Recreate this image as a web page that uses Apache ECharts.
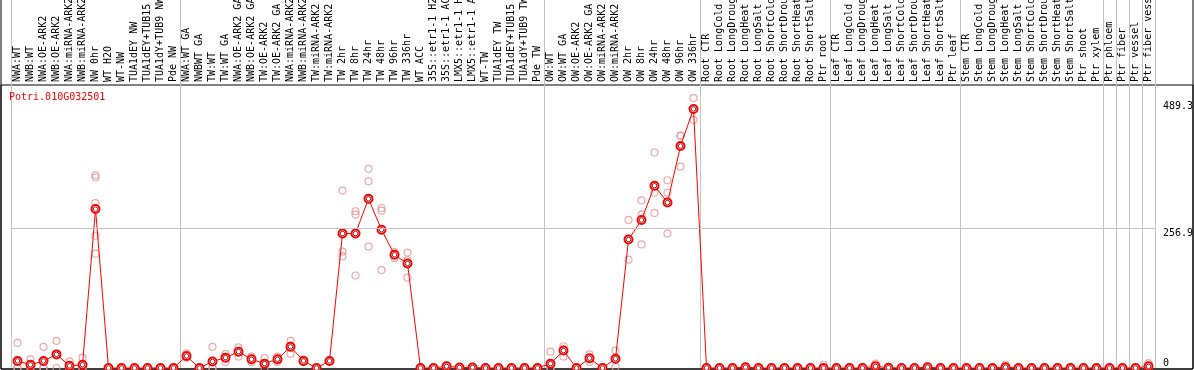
<!DOCTYPE html>
<html><head><meta charset="utf-8">
<script src="https://cdn.jsdelivr.net/npm/echarts@6/dist/echarts.min.js"></script>
<style>html,body{margin:0;padding:0;background:#fff;overflow:hidden}#c{width:1194px;height:370px}</style>
</head><body><div id="c"></div><script>
const geneName = 'Potri.010G032501';

const categories = [
  'NWA:WT','NWB:WT','NWA:OE-ARK2','NWB:OE-ARK2','NWA:miRNA-ARK2','NWB:miRNA-ARK2','NW 0hr','WT H2O','WT-NW','TUA1dEY NW','TUA1dEY+TUB15 NW','TUA1dY+TUB9 NW','Pde NW',
  'NWA:WT GA','NWBWT GA','TW:WT','TW:WT GA','NWA:OE-ARK2 GA','NWB:OE-ARK2 GA','TW:OE-ARK2','TW:OE-ARK2 GA','NWA:miRNA-ARK2','NWB:miRNA-ARK2','TW:miRNA-ARK2','TW:miRNA-ARK2','TW 2hr','TW 8hr','TW 24hr','TW 48hr','TW 96hr','TW 336hr','WT ACC','35S::etr1-1 H2O','35S::etr1-1 ACC','LMX5::etr1-1 H2O','LMX5::etr1-1 ACC','WT-TW','TUA1dEY TW','TUA1dEY+TUB15 TW','TUA1dY+TUB9 TW','Pde TW',
  'OW:WT','OW:WT GA','OW:OE-ARK2','OW:OE-ARK2 GA','OW:miRNA-ARK2','OW:miRNA-ARK2','OW 2hr','OW 8hr','OW 24hr','OW 48hr','OW 96hr','OW 336hr',
  'Root CTR','Root LongCold','Root LongDrought','Root LongHeat','Root LongSalt','Root ShortCold','Root ShortDrought','Root ShortHeat','Root ShortSalt','Ptr root',
  'Leaf CTR','Leaf LongCold','Leaf LongDrought','Leaf LongHeat','Leaf LongSalt','Leaf ShortCold','Leaf ShortDrought','Leaf ShortHeat','Leaf ShortSalt','Ptr leaf',
  'Stem CTR','Stem LongCold','Stem LongDrought','Stem LongHeat','Stem LongSalt','Stem ShortCold','Stem ShortDrought','Stem ShortHeat','Stem ShortSalt','Ptr shoot','Ptr xylem',
  'Ptr phloem','Ptr fiber','Ptr vessel','Ptr fiber vessel'
];

// index of the first sample of each group (separator lines)
const groupStarts = [0, 13, 41, 53, 63, 73, 84, 85, 86, 87];

const meanValues = [
  13, 6, 13, 25, 4, 6, 292, 0, 0, 0, 0, 0, 0,
  22, 0, 12, 19, 30, 16, 8, 16, 39, 13, 0, 13, 247, 247, 311, 254, 208, 192, 0, 0, 3, 1, 1, 0, 0, 0, 0, 0,
  8, 32, 0, 18, 0, 17, 236, 272, 335, 304, 408, 476,
  0, 0, 0, 1.5, 0, 0, 0, 0, 0, 0,
  0, 0, 0, 3, 0.5, 0, 0, 1.5, 0, 0,
  0, 0, 0, 1.5, 0, 0, 0, 0, 0, 0, 0,
  0, 0, 0, 3
];

const replicateValues = [
  [46,0,0],[16,0,2],[39,0,0],[50,0,25],[12,0,0],[19,0,0],[354,350,303,243,210],[0],[0],[0],[0],[0],[0],
  [27,19,21],[0],[39,0,0],[26,11,20],[38,21,31],[21,11,16],[18,0,8],[21,11,16],[50,26,41],[16,11,13],[0],[13],
  [326,214,205],[288,282,170],[366,343,223],[294,289,180],[213,202,209],[212,166,198],
  [0],[0],[5,0,3],[1],[1],[0],[0],[0],[0],[0],
  [30,0,0],[40,21,34],[0],[25,11,18],[0],[32,2,17],[272,199,236],[308,282,227],[396,322,285],[345,322,247],[427,370,427],[496,456,476],
  [0],[0],[0],[2],[0],[0],[0],[0],[0],[6,0],
  [0],[0],[0],[8,0],[1],[0],[0],[2],[0],[0],
  [0],[0],[0],[6,0],[0],[0],[0],[0],[0],[0],[0],
  [0],[0],[0],[9,0]
];

const yTickValues = [0, 256.9, 489.3];

const FONT = 'DejaVu Sans Mono';
const GRAY = '#c4c4c4';

const replicatePoints = [];
replicateValues.forEach((arr, i) => arr.forEach(v => replicatePoints.push([i, v])));

const sepLine = {
  show: true,
  interval: (idx) => groupStarts.includes(idx),
  lineStyle: { color: GRAY, width: 1 }
};

const chart = echarts.init(document.getElementById('c'), null, { renderer: 'canvas' });
chart.setOption({
  animation: false,
  backgroundColor: '#fff',
  title: {
    text: geneName, left: 9, top: 92, padding: 0,
    textStyle: { color: '#ff0000', fontSize: 10, fontWeight: 'normal', fontFamily: FONT }
  },
  grid: [
    { left: 1, right: 1, top: -1, bottom: 1, show: true, borderColor: '#000', borderWidth: 1, backgroundColor: 'transparent', outerBoundsMode: 'none', containLabel: false },
    { left: 11, right: 39, top: 0, height: 85, outerBoundsMode: 'none', containLabel: false },
    { left: 11, right: 39, top: 85, bottom: 2, outerBoundsMode: 'none', containLabel: false },
    { left: 1, right: 1, top: 85, bottom: 1, show: true, borderColor: '#000', borderWidth: 1, backgroundColor: 'transparent', outerBoundsMode: 'none', containLabel: false }
  ],
  xAxis: [
    { gridIndex: 0, type: 'value', show: false },
    { gridIndex: 1, type: 'category', data: categories, boundaryGap: true,
      axisLine: { show: false }, axisTick: { show: false }, axisLabel: { show: false }, splitLine: sepLine },
    { gridIndex: 2, type: 'category', data: categories, boundaryGap: true, position: 'top',
      axisLine: { show: false, onZero: false }, axisTick: { show: false },
      axisLabel: { interval: 0, rotate: -90, margin: 3, fontSize: 10, fontFamily: FONT, color: '#000' },
      splitLine: sepLine },
    { gridIndex: 3, type: 'value', show: false }
  ],
  yAxis: [
    { gridIndex: 0, type: 'value', show: false },
    { gridIndex: 1, type: 'value', show: false },
    { gridIndex: 2, type: 'value', min: 0, max: 520, show: false },
    { gridIndex: 3, type: 'value', show: false }
  ],
  series: [
    {
      type: 'scatter', xAxisIndex: 2, yAxisIndex: 2, data: replicatePoints,
      symbol: 'circle', symbolSize: 7,
      itemStyle: { color: 'rgba(0,0,0,0)', borderColor: '#e89494', borderWidth: 1.2 },
      z: 2, silent: true
    },
    {
      type: 'line', xAxisIndex: 2, yAxisIndex: 2, data: meanValues,
      symbol: 'emptyCircle', symbolSize: 8, showAllSymbol: true,
      lineStyle: { color: '#ff0000', width: 1 },
      itemStyle: { color: '#ff0000', borderWidth: 1.3 },
      z: 3, silent: true,
      markLine: {
        silent: true, symbol: 'none',
        data: yTickValues.map((v) => ({
          yAxis: v,
          lineStyle: { color: v === 256.9 ? GRAY : 'rgba(0,0,0,0)', width: 1, type: 'solid' },
          label: {
            show: true, position: 'end', distance: 8, formatter: String(v),
            color: '#000', fontSize: 10, fontFamily: FONT,
            align: 'left', verticalAlign: v === 0 ? 'bottom' : 'top'
          }
        }))
      }
    },
    {
      type: 'scatter', xAxisIndex: 2, yAxisIndex: 2,
      data: meanValues.map((v, i) => [i, v]),
      symbol: 'circle', symbolSize: 4.5,
      itemStyle: { color: 'rgba(0,0,0,0)', borderColor: '#5a0000', borderWidth: 1 },
      z: 4, silent: true
    }
  ]
});
</script></body></html>
